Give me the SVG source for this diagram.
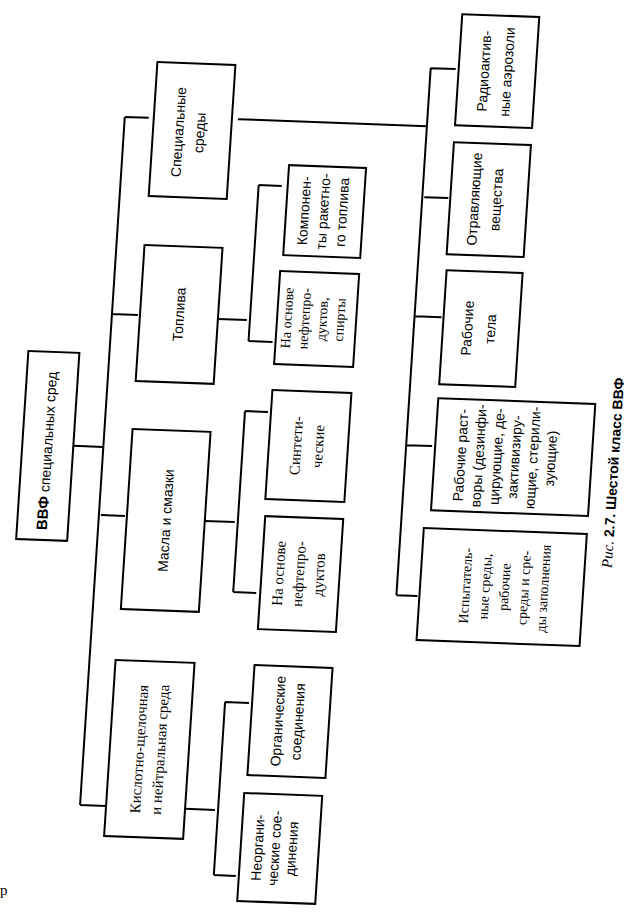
<svg xmlns="http://www.w3.org/2000/svg" width="639" height="919" viewBox="0 0 639 919">
<style>
.box{fill:#fff;stroke:#000;stroke-width:2}
.ln{stroke:#000;stroke-width:2;fill:none}
.s{font-family:"Liberation Sans","DejaVu Sans",sans-serif;font-size:14px;fill:#000;text-anchor:middle}
.r{font-family:"Liberation Serif","DejaVu Serif",serif;font-size:15px;fill:#000;text-anchor:middle}
.r14{font-size:14px}
</style>
<rect width="639" height="919" fill="#fff"/>
<g transform="matrix(1 0.037 -0.065 1 29.9 -11.84)">
<g id="connectors">
<path class="ln" d="M103 125V813M103 125H127M216 123H405M73 455H103M103 322H129M105 523H129M103 813H129"/>
<path class="ln" d="M209 323H238M241 188V344M241 188H264M241 344H265"/>
<path class="ln" d="M209 525H239M242 414V595M242 414H265M242 595H265"/>
<path class="ln" d="M208 813H238M241 705V878M241 705H265M241 878H263"/>
<path class="ln" d="M405 65V592M405 65H430M407 194H431M405 313H432M405 442H431M405 592H426"/>
</g>
<g id="n-root"><rect class="box" x="22" y="362" width="51" height="188"/>
<text class="s" transform="translate(47,461) rotate(-90)" y="5"><tspan font-weight="bold" font-size="15">ВВФ</tspan> специальных сред</text></g>
<g id="n-special"><rect class="box" x="132" y="69" width="78" height="134"/>
<text class="s" transform="translate(168,138) rotate(-90)"><tspan x="0" y="-5.6">Специальные</tspan><tspan x="0" y="15.4">среды</tspan></text></g>
<g id="n-fuel"><rect class="box" x="131" y="252" width="78" height="136"/>
<text class="s" transform="translate(170,320) rotate(-90)" y="5">Топлива</text></g>
<g id="n-oils"><rect class="box" x="131" y="436" width="78" height="180"/>
<text class="s" transform="translate(170,526) rotate(-90)" y="5">Масла и смазки</text></g>
<g id="n-acid"><rect class="box" x="129" y="667" width="79" height="176"/>
<text class="r" transform="translate(168.5,755) rotate(-90)"><tspan x="0" y="-5.25">Кислотно-щелочная</tspan><tspan x="0" y="15.75">и нейтральная среда</tspan></text></g>
<g id="n-rocket"><rect class="box" x="270" y="167" width="77" height="90"/>
<text class="s" transform="translate(307,212) rotate(-90)"><tspan x="0" y="-14.1">Компонен-</tspan><tspan x="0" y="4.9">ты ракетно-</tspan><tspan x="0" y="23.9">го топлива</tspan></text></g>
<g id="n-petro-fuel"><rect class="box" x="268" y="273" width="79" height="93"/>
<text class="r r14" transform="translate(304,319.5) rotate(-90)"><tspan x="0" y="-21.35">На основе</tspan><tspan x="0" y="-3.85">нефтепро-</tspan><tspan x="0" y="13.65">дуктов,</tspan><tspan x="0" y="31.15">спирты</tspan></text></g>
<g id="n-synth"><rect class="box" x="268" y="392" width="79" height="109"/>
<text class="r" transform="translate(306,446.5) rotate(-90)"><tspan x="0" y="-5.75">Синтети-</tspan><tspan x="0" y="16.25">ческие</tspan></text></g>
<g id="n-petro-oil"><rect class="box" x="269" y="518" width="78" height="113"/>
<text class="r" transform="translate(306,574.5) rotate(-90)"><tspan x="0" y="-14.75">На основе</tspan><tspan x="0" y="5.25">нефтепро-</tspan><tspan x="0" y="25.25">дуктов</tspan></text></g>
<g id="n-organic"><rect class="box" x="268" y="667" width="78" height="110"/>
<text class="s" transform="translate(305,722) rotate(-90)"><tspan x="0" y="-5.1">Органические</tspan><tspan x="0" y="14.9">соединения</tspan></text></g>
<g id="n-inorganic"><rect class="box" x="266" y="795" width="78" height="108"/>
<text class="s" transform="translate(300,849) rotate(-90)"><tspan x="0" y="-12.1">Неоргани-</tspan><tspan x="0" y="4.9">ческие сое-</tspan><tspan x="0" y="21.9">динения</tspan></text></g>
<g id="n-radio"><rect class="box" x="433" y="10" width="77" height="111"/>
<text class="s" transform="translate(470,66) rotate(-90)"><tspan x="0" y="-6.6">Радиоактив-</tspan><tspan x="0" y="16.4">ные аэрозоли</tspan></text></g>
<g id="n-toxic"><rect class="box" x="433" y="138" width="77" height="112"/>
<text class="s" transform="translate(468,194) rotate(-90)"><tspan x="0" y="-6.1">Отравляющие</tspan><tspan x="0" y="15.9">вещества</tspan></text></g>
<g id="n-bodies"><rect class="box" x="434" y="266" width="76" height="114"/>
<text class="s" transform="translate(470,323) rotate(-90)"><tspan x="0" y="-6.6">Рабочие</tspan><tspan x="0" y="16.4">тела</tspan></text></g>
<g id="n-solutions"><rect class="box" x="434" y="394" width="157" height="112"/>
<text class="s" transform="translate(505,450) rotate(-90)"><tspan x="0" y="-40.1">Рабочие раст-</tspan><tspan x="0" y="-22.1">воры (дезинфи-</tspan><tspan x="0" y="-4.1">цирующие, де-</tspan><tspan x="0" y="13.9">зактивизиру-</tspan><tspan x="0" y="31.9">ющие, стерили-</tspan><tspan x="0" y="49.9">зующие)</tspan></text></g>
<g id="n-test"><rect class="box" x="428" y="524" width="163" height="112"/>
<text class="r r14" transform="translate(512,580) rotate(-90)"><tspan x="0" y="-34.1">Испытатель-</tspan><tspan x="0" y="-14.6">ные среды,</tspan><tspan x="0" y="4.9">рабочие</tspan><tspan x="0" y="24.4">среды и сре-</tspan><tspan x="0" y="43.9">ды заполнения</tspan></text></g>
<g id="caption">
<text class="s" transform="translate(613,462) rotate(-90)" y="5"><tspan font-family="Liberation Serif, serif" font-style="italic" font-size="15">Рис.</tspan><tspan font-weight="bold"> 2.7. Шестой класс ВВФ</tspan></text></g>
</g>
<text x="0" y="895" font-family="Liberation Serif, serif" font-size="15">р</text>
</svg>
